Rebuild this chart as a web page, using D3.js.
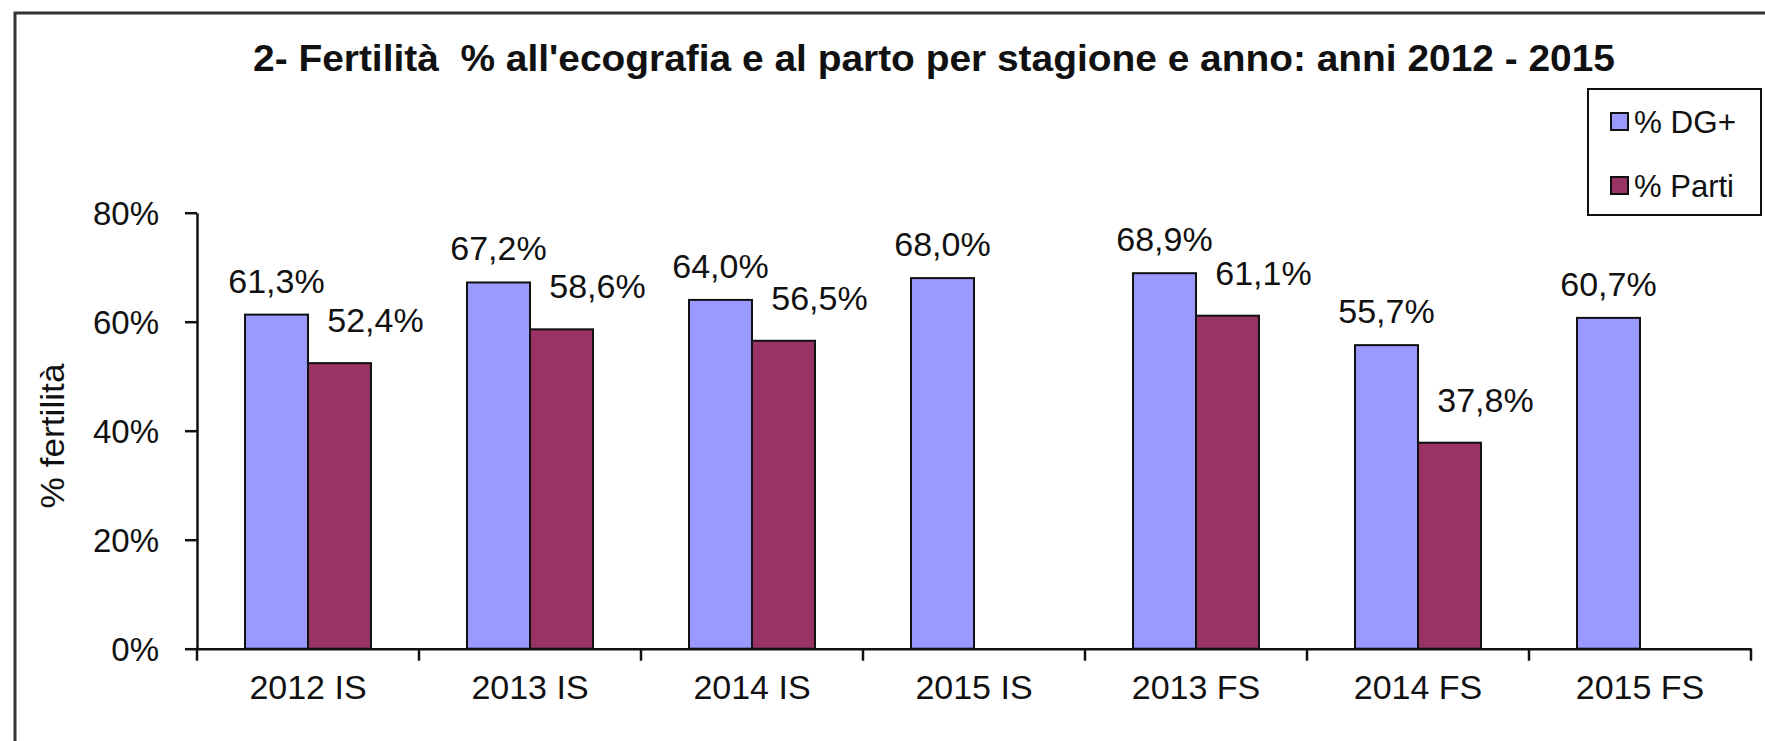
<!DOCTYPE html>
<html>
<head>
<meta charset="utf-8">
<script src="https://cdn.jsdelivr.net/npm/d3@7/dist/d3.min.js"></script>
<style>
  html, body { margin: 0; padding: 0; background: #fff; }
  svg { display: block; }
  text { font-family: "Liberation Sans", Arial, sans-serif; fill: #111; }
</style>
</head>
<body>
<svg id="chart" width="1765" height="741"></svg>
<script>
const title = "2- Fertilità  % all'ecografia e al parto per stagione e anno: anni 2012 - 2015";
const categories = ["2012 IS", "2013 IS", "2014 IS", "2015 IS", "2013 FS", "2014 FS", "2015 FS"];
const seriesNames = ["% DG+", "% Parti"];
const dgPlus = [61.3, 67.2, 64.0, 68.0, 68.9, 55.7, 60.7];
const parti = [52.4, 58.6, 56.5, null, 61.1, 37.8, null];
const yTicks = [0, 20, 40, 60, 80];
const yTitle = "% fertilità";
const colors = ["#9999FF", "#993366"];

const svg = d3.select("#chart");
const W = 1765, H = 741;
const plot = { left: 197, right: 1751, top: 212.7, bottom: 648.7 };

// outer frame (top and left edges visible)
svg.append("rect")
  .attr("x", 15).attr("y", 13).attr("width", W + 20).attr("height", H + 20)
  .attr("fill", "#fff").attr("stroke", "#333").attr("stroke-width", 3);

// title
svg.append("text")
  .attr("x", 934).attr("y", 71)
  .attr("text-anchor", "middle")
  .attr("font-size", 36).attr("font-weight", "bold")
  .style("white-space", "pre")
  .attr("textLength", 1362).attr("lengthAdjust", "spacingAndGlyphs")
  .text(title);

const x = d3.scaleBand().domain(categories).range([plot.left, plot.right]).padding(0);
const y = d3.scaleLinear().domain([0, 80]).range([plot.bottom, plot.top]);
const bw = x.bandwidth();
const xInner = d3.scaleBand().domain(seriesNames)
  .range([bw * 0.2163, bw * 0.7837]).padding(0);

const series = [dgPlus, parti];
const fmt = v => d3.format(".1f")(v).replace(".", ",") + "%";

// bars
series.forEach((vals, si) => {
  const g = svg.append("g");
  categories.forEach((c, i) => {
    const v = vals[i];
    if (v == null) return;
    g.append("rect")
      .attr("x", x(c) + xInner(seriesNames[si]))
      .attr("y", y(v))
      .attr("width", xInner.bandwidth())
      .attr("height", y(0) - y(v))
      .attr("fill", colors[si])
      .attr("stroke", "#111").attr("stroke-width", 2);
  });
});

// data labels
const labelDx = [0, 36];
const labelGap = [22, 31];
series.forEach((vals, si) => {
  categories.forEach((c, i) => {
    const v = vals[i];
    if (v == null) return;
    svg.append("text")
      .attr("x", x(c) + xInner(seriesNames[si]) + xInner.bandwidth() / 2 + labelDx[si])
      .attr("y", y(v) - labelGap[si])
      .attr("text-anchor", "middle")
      .attr("font-size", 34)
      .text(fmt(v));
  });
});

// y axis
const yAxis = svg.append("g")
  .attr("transform", `translate(${plot.left},0)`)
  .call(d3.axisLeft(y).tickValues(yTicks).tickFormat(d => d + "%").tickSize(12).tickPadding(26).tickSizeOuter(0));
yAxis.select(".domain").attr("stroke", "#111").attr("stroke-width", 2.5);
yAxis.selectAll(".tick line").attr("stroke", "#111").attr("stroke-width", 2.5);
yAxis.selectAll(".tick text").attr("font-size", 33).attr("font-family", "Liberation Sans, Arial, sans-serif").attr("fill", "#111").attr("dy", "0.35em");

// x axis
const xAxis = svg.append("g")
  .attr("transform", `translate(0,${plot.bottom})`)
  .call(d3.axisBottom(x).tickSize(0).tickPadding(26).tickSizeOuter(0));
xAxis.select(".domain").attr("stroke", "#111").attr("stroke-width", 2.5);
xAxis.selectAll(".tick text").attr("font-size", 34).attr("font-family", "Liberation Sans, Arial, sans-serif").attr("fill", "#111").attr("dy", "0.71em");
// category boundary ticks
const bounds = categories.map(c => x(c)).concat([x(categories[categories.length - 1]) + bw]);
xAxis.selectAll(".bound").data(bounds).enter().append("line")
  .attr("x1", d => d).attr("x2", d => d)
  .attr("y1", 0).attr("y2", 12)
  .attr("stroke", "#111").attr("stroke-width", 2.5);

// y title
svg.append("text")
  .attr("transform", `translate(64,436) rotate(-90)`)
  .attr("text-anchor", "middle")
  .attr("font-size", 33)
  .attr("textLength", 145).attr("lengthAdjust", "spacingAndGlyphs")
  .text(yTitle);

// legend
const lg = svg.append("g");
lg.append("rect").attr("x", 1588).attr("y", 89).attr("width", 173).attr("height", 126)
  .attr("fill", "#fff").attr("stroke", "#111").attr("stroke-width", 2);
seriesNames.forEach((n, i) => {
  const cy = 122 + i * 64;
  lg.append("rect").attr("x", 1611).attr("y", cy - 9).attr("width", 17).attr("height", 17)
    .attr("fill", colors[i]).attr("stroke", "#111").attr("stroke-width", 2);
  lg.append("text").attr("x", 1634).attr("y", cy + 11).attr("font-size", 32)
    .attr("textLength", i === 0 ? 102 : 100).attr("lengthAdjust", "spacingAndGlyphs")
    .text(n);
});
</script>
</body>
</html>
